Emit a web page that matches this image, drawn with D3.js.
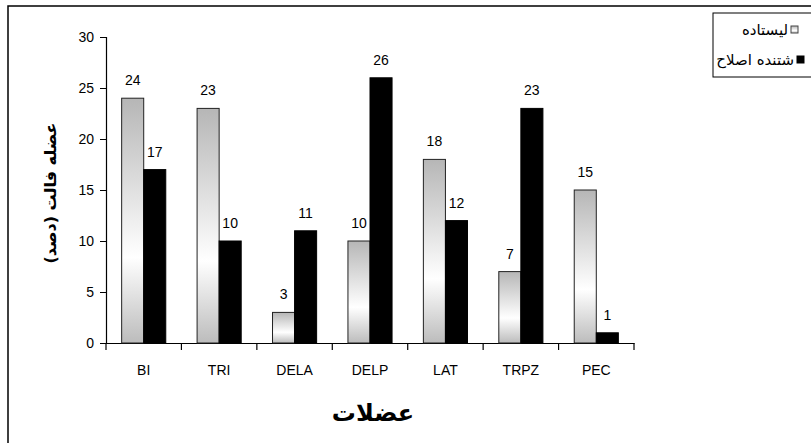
<!DOCTYPE html>
<html>
<head>
<meta charset="utf-8">
<script src="https://cdn.jsdelivr.net/npm/d3@7"></script>
<style>
body { margin: 0; background: #fff; }
text { font-family: "Liberation Sans", Arial, "DejaVu Sans", sans-serif; }
</style>
</head>
<body>
<svg id="svg" width="811" height="443"></svg>
<script>
// muscles on x axis
var muscles = ["BI", "TRI", "DELA", "DELP", "LAT", "TRPZ", "PEC"];
var standing = [24, 23, 3, 10, 18, 7, 15];
var corrected = [17, 10, 11, 26, 12, 23, 1];
var seriesNames = ["لیستاده", "شتنده اصلاح"];
var yTicks = [0, 5, 10, 15, 20, 25, 30];

var svg = d3.select("#svg");

// outer frame
svg.append("rect")
  .attr("x", 8).attr("y", 6)
  .attr("width", 840).attr("height", 470)
  .attr("fill", "none").attr("stroke", "black").attr("stroke-width", 1.5);

var defs = svg.append("defs");
var grad = defs.append("linearGradient")
  .attr("id", "grayfade")
  .attr("x1", 0).attr("y1", 0).attr("x2", 0).attr("y2", 1);
grad.append("stop").attr("offset", "0%").attr("stop-color", "#b6b6b6");
grad.append("stop").attr("offset", "65%").attr("stop-color", "#ffffff");
grad.append("stop").attr("offset", "100%").attr("stop-color", "#bcbcbc");

defs.append("clipPath").attr("id", "legclip")
  .append("rect").attr("x", 714).attr("y", 13).attr("width", 100).attr("height", 64);

var x0 = d3.scaleBand().domain(muscles).range([106, 634]).paddingInner(0).paddingOuter(0);
var x1 = d3.scaleBand().domain([0, 1]).range([0, x0.bandwidth()]).paddingInner(0).paddingOuter(0.71);
var y = d3.scaleLinear().domain([0, 30]).range([343, 37]);

// y axis
var yAxis = svg.append("g")
  .attr("transform", "translate(106,0)")
  .call(d3.axisLeft(y).tickValues(yTicks).tickSize(6).tickPadding(6));
yAxis.select(".domain").attr("stroke-width", 1.2);
yAxis.selectAll("text").attr("font-size", 14).attr("fill", "black");

// x axis
var xAxis = svg.append("g")
  .attr("transform", "translate(0,343)")
  .call(d3.axisBottom(x0).tickSize(0).tickPadding(22));
xAxis.select(".domain").attr("stroke-width", 1.2);
xAxis.selectAll("text").attr("font-size", 14).attr("fill", "black");
// ticks between categories
var bounds = muscles.map(function(m) { return x0(m); }).concat([634]);
xAxis.selectAll(".sep").data(bounds).enter().append("line")
  .attr("x1", function(d) { return d; }).attr("x2", function(d) { return d; })
  .attr("y1", 0).attr("y2", 7)
  .attr("stroke", "black").attr("stroke-width", 1.2);

var rows = muscles.map(function(m, i) { return { m: m, vals: [standing[i], corrected[i]] }; });

var groups = svg.selectAll(".grp").data(rows).enter().append("g")
  .attr("transform", function(d) { return "translate(" + x0(d.m) + ",0)"; });

groups.selectAll("rect").data(function(d) { return d.vals; }).enter().append("rect")
  .attr("x", function(d, i) { return x1(i); })
  .attr("y", function(d) { return y(d); })
  .attr("width", x1.bandwidth())
  .attr("height", function(d) { return y(0) - y(d); })
  .attr("fill", function(d, i) { return i == 0 ? "url(#grayfade)" : "black"; })
  .attr("stroke", function(d, i) { return i == 0 ? "#222" : "black"; })
  .attr("stroke-width", 1);

groups.selectAll(".lbl").data(function(d) { return d.vals; }).enter().append("text")
  .attr("x", function(d, i) { return x1(i) + x1.bandwidth() / 2; })
  .attr("y", function(d) { return y(d) - 13; })
  .attr("text-anchor", "middle")
  .attr("font-size", 14)
  .text(function(d) { return d; });

// axis titles
svg.append("text")
  .attr("transform", "translate(56,193) rotate(-90)")
  .attr("text-anchor", "middle")
  .attr("font-size", 16).attr("font-weight", "bold")
  .style("font-family", "'DejaVu Sans', sans-serif")
  .text("عضله فالت (دصد)");

svg.append("text")
  .attr("x", 373).attr("y", 421)
  .attr("text-anchor", "middle")
  .attr("font-size", 24).attr("font-weight", "bold")
  .style("font-family", "'DejaVu Sans', sans-serif")
  .text("عضلات");

// legend
svg.append("rect")
  .attr("x", 713).attr("y", 13)
  .attr("width", 110).attr("height", 64)
  .attr("fill", "white").attr("stroke", "black").attr("stroke-width", 1);

var legY = [30, 60];
var legX = [791, 797];
var leg = svg.selectAll(".leg").data(seriesNames).enter().append("g");
leg.append("rect")
  .attr("x", function(d, i) { return legX[i]; })
  .attr("y", function(d, i) { return legY[i] - 4; })
  .attr("width", 7).attr("height", 7)
  .attr("fill", function(d, i) { return i == 0 ? "url(#grayfade)" : "black"; })
  .attr("stroke", function(d, i) { return i == 0 ? "#444" : "black"; });
leg.append("text")
  .attr("x", function(d, i) { return legX[i] - 3; })
  .attr("y", function(d, i) { return legY[i] + 5; })
  .attr("text-anchor", "end")
  .attr("font-size", 15)
  .attr("clip-path", "url(#legclip)")
  .style("font-family", "'DejaVu Sans', sans-serif")
  .text(function(d) { return d; });
</script>
</body>
</html>
